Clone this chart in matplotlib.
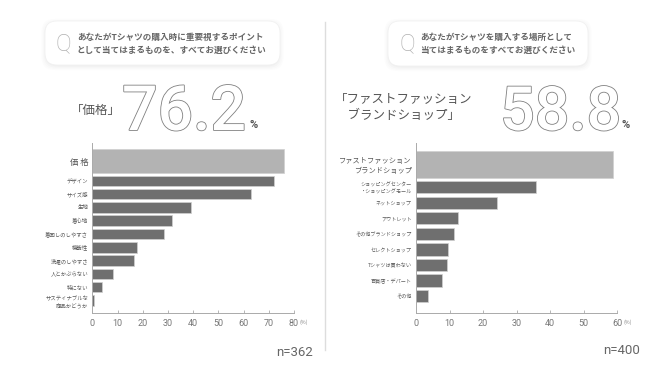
import matplotlib
matplotlib.use("Agg")
import matplotlib.pyplot as plt
from matplotlib.patches import FancyBboxPatch
import matplotlib.patheffects as pe

plt.rcParams['font.family'] = ['Noto Sans CJK JP', 'DejaVu Sans']

# ---------------- data ----------------
left_question = "あなたがTシャツの購入時に重要視するポイント\nとして当てはまるものを、すべてお選びください"
left_cats = ['価 格', 'デザイン', 'サイズ感', '生地', '着心地', '着回しのしやすさ',
             '機能性', '洗濯のしやすさ', '人とかぶらない', '特にない',
             'サスティナブルな\n商品かどうか']
left_vals = [76.2, 72.2, 62.8, 39.0, 31.7, 28.6, 17.9, 16.4, 8.1, 3.7, 0.7]
left_ticks = [0, 10, 20, 30, 40, 50, 60, 70, 80]
left_n = "n=362"
left_head = "「価格」"

right_question = "あなたがTシャツを購入する場所として\n当てはまるものをすべてお選びください"
right_cats = ['ファストファッション\nブランドショップ', 'ショッピングセンター\n・ショッピングモール',
              'ネットショップ', 'アウトレット', 'その他ブランドショップ', 'セレクトショップ',
              'Tシャツは買わない', '百貨店・デパート', 'その他']
right_vals = [58.8, 35.8, 24.2, 12.6, 11.4, 9.6, 9.3, 7.7, 3.5]
right_ticks = [0, 10, 20, 30, 40, 50, 60]
right_n = "n=400"
right_head = "「ファストファッション\n　ブランドショップ」"

W, H = 650, 366
fig = plt.figure(figsize=(6.5, 3.66), dpi=100)
fig.patch.set_facecolor('white')

# overlay in pixel coordinates
ov = fig.add_axes([0, 0, 1, 1], zorder=0)
ov.set_xlim(0, W)
ov.set_ylim(H, 0)
ov.axis('off')

def bubble(x0, y0, x1, y1):
    for i, a in enumerate([0.035, 0.03, 0.025, 0.02]):
        p = FancyBboxPatch((x0 - i * 1.2, y0 - i * 1.2 + 1.5), (x1 - x0) + i * 2.4, (y1 - y0) + i * 2.4,
                           boxstyle="round,pad=0,rounding_size=13", fc='#888888', ec='none',
                           alpha=a, zorder=1)
        ov.add_patch(p)
    p = FancyBboxPatch((x0, y0), x1 - x0, y1 - y0, boxstyle="round,pad=0,rounding_size=12",
                       fc='white', ec='#f0f0f0', lw=0.5, zorder=2)
    ov.add_patch(p)

bubble(45, 21, 280, 65)
bubble(388, 21, 588, 66)

ov.text(63.5, 44, 'Q', fontsize=17, family='Roboto', fontweight='light', color='#b0b0b0',
        ha='center', va='center', zorder=3)
ov.text(77, 43.5, left_question, fontsize=6.2, color='#666666', fontweight='bold',
        ha='left', va='center', linespacing=1.55, zorder=3)
ov.text(407.5, 44, 'Q', fontsize=17, family='Roboto', fontweight='light', color='#b0b0b0',
        ha='center', va='center', zorder=3)
ov.text(420, 43.5, right_question, fontsize=6.2, color='#666666', fontweight='bold',
        ha='left', va='center', linespacing=1.55, zorder=3)

# divider
ov.plot([325, 325], [22, 350], color='#dddddd', lw=1, zorder=1)

# headlines
outline = [pe.withStroke(linewidth=1.2, foreground='#808080')]
ov.text(71, 110, left_head, fontsize=9, color='#555555', ha='left', va='center')
ov.text(122, 130, f"{left_vals[0]:.1f}", fontsize=45, family='Roboto', fontweight='medium',
        color='white', ha='left', va='baseline', path_effects=outline)
ov.text(250, 128, '%', fontsize=8, family='Roboto', fontweight='bold', color='#555555',
        ha='left', va='baseline')

ov.text(335, 108, right_head, fontsize=9, color='#555555', ha='left', va='center',
        linespacing=1.3)
ov.text(500, 130, f"{right_vals[0]:.1f}", fontsize=44, family='Roboto', fontweight='medium',
        color='white', ha='left', va='baseline', path_effects=outline)
ov.text(622, 128, '%', fontsize=8, family='Roboto', fontweight='bold', color='#555555',
        ha='left', va='baseline')

ov.text(313, 352, left_n, fontsize=9.5, family='Roboto', color='#666666', ha='right', va='center')
ov.text(640, 351, right_n, fontsize=9.5, family='Roboto', color='#666666', ha='right', va='center')

def chart(px0, px1, py0, py1, xmax, vals, cats, ticks, first_c, first_h, c0, step, h,
          first_fs, fs, pct_x):
    ax = fig.add_axes([px0 / W, 1 - py1 / H, (px1 - px0) / W, (py1 - py0) / H], zorder=2)
    ax.patch.set_alpha(0)
    n = len(vals)
    ys = [first_c] + [c0 + step * i for i in range(n - 1)]
    hs = [first_h] + [h] * (n - 1)
    cols = ['#b3b3b3'] + ['#6f6f6f'] * (n - 1)
    ax.barh(ys, vals, height=hs, color=cols, edgecolor='#d0d0d0', linewidth=0.5)
    ax.set_xlim(0, xmax)
    ax.set_ylim(py1 - py0, 0)
    ax.set_yticks(ys)
    ax.set_yticklabels(cats)
    for i, t in enumerate(ax.get_yticklabels()):
        t.set_fontsize(first_fs if i == 0 else fs)
        t.set_color('#555555' if i == 0 else '#5a5a5a')
        t.set_linespacing(1.3)
    ax.tick_params(axis='y', length=0, pad=3)
    ax.set_xticks(ticks)
    ax.set_xticklabels([str(t) for t in ticks], family='Roboto')
    ax.tick_params(axis='x', direction='in', length=2.5, width=0.6, color='#aaaaaa',
                   labelsize=6.5, labelcolor='#777777', pad=4)
    for s in ['top', 'right']:
        ax.spines[s].set_visible(False)
    for s in ['left', 'bottom']:
        ax.spines[s].set_color('#aaaaaa')
        ax.spines[s].set_linewidth(0.7)
    ov.text(pct_x, 322.5, '(%)', fontsize=3.8, color='#888888', ha='left', va='center')
    return ax

chart(92.3, 294.0, 143, 313.3, 80, left_vals, left_cats, left_ticks,
      18.3, 24, 37.8, 13.3, 10.5, 6, 3.9, 299)
chart(416.0, 617.3, 143, 313.3, 60, right_vals, right_cats, right_ticks,
      21.2, 27, 44.2, 15.57, 12.3, 5.2, 3.7, 623)

fig.savefig('out.png', dpi=100, facecolor='white')
